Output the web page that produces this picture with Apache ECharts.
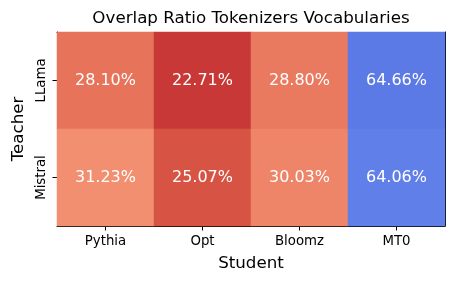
<!DOCTYPE html>
<html><head><meta charset="utf-8">
<script src="https://cdn.jsdelivr.net/npm/echarts@6/dist/echarts.min.js"></script>
<style>html,body{margin:0;padding:0;background:#fff}#c{width:454px;height:283px}</style>
</head><body><div id="c"></div>
<script>
const students = ['Pythia', 'Opt', 'Bloomz', 'MT0'];
const teachers = ['LLama', 'Mistral'];
const llamaValues = [28.10, 22.71, 28.80, 64.66];
const mistralValues = [31.23, 25.07, 30.03, 64.06];
const title = 'Overlap Ratio Tokenizers Vocabularies';

// coolwarm colormap (Moreland), reversed so low = red
const coolwarm = ['#3b4cc0','#445acc','#4d68d7','#5775e1','#6282ea','#6c8ef1','#779af7','#82a5fb','#8db0fe','#98b9ff','#a3c2ff','#aec9fd','#b8d0f9','#c2d5f4','#ccd9ee','#d5dbe6','#dddddd','#e5d8d1','#ecd3c5','#f1ccb8','#f5c4ac','#f7bb9f','#f7b193','#f7a686','#f49a7b','#f18d6f','#ec7f63','#e57058','#de604d','#d55042','#cb3e38','#c0282f','#b40426'];
const cmap = coolwarm.slice().reverse();

const rows = [llamaValues, mistralValues];
const data = [];
rows.forEach((vals, r) => vals.forEach((v, c) => data.push([c, r, v])));

const font = 'DejaVu Sans';
const chart = echarts.init(document.getElementById('c'));
chart.setOption({
  animation: false,
  backgroundColor: '#fff',
  textStyle: { fontFamily: font },
  title: { text: title, left: 246, top: 5, textAlign: 'center',
    textStyle: { fontFamily: font, fontSize: 16.7, fontWeight: 'normal', color: '#000' } },
  grid: { left: 57, right: 9, top: 32, bottom: 57 },
  xAxis: [{
    type: 'category', data: students, position: 'bottom',
    name: 'Student', nameLocation: 'middle', nameGap: 29,
    nameTextStyle: { fontFamily: font, fontSize: 16.7, color: '#000' },
    axisLine: { show: true, lineStyle: { color: '#000', width: 1 } },
    axisTick: { show: true, alignWithLabel: true, length: 4.5, lineStyle: { color: '#000' } },
    axisLabel: { fontFamily: font, fontSize: 13.3, color: '#000', margin: 9 },
    splitLine: { show: false }, splitArea: { show: false }
  }, {
    type: 'category', data: students, position: 'top',
    axisLine: { show: true, lineStyle: { color: '#000', width: 1 } },
    axisTick: { show: false }, axisLabel: { show: false }, splitLine: { show: false }
  }],
  yAxis: [{
    type: 'category', data: teachers, inverse: true, position: 'left',
    name: 'Teacher', nameLocation: 'middle', nameGap: 30, nameRotate: 90,
    nameTextStyle: { fontFamily: font, fontSize: 16.7, color: '#000' },
    axisLine: { show: true, lineStyle: { color: '#000', width: 1 } },
    axisTick: { show: true, alignWithLabel: true, length: 4.5, lineStyle: { color: '#000' } },
    axisLabel: { fontFamily: font, fontSize: 13.3, color: '#000', margin: 9, rotate: 90 },
    splitLine: { show: false }, splitArea: { show: false }
  }, {
    type: 'category', data: teachers, inverse: true, position: 'right',
    axisLine: { show: true, lineStyle: { color: '#000', width: 1 } },
    axisTick: { show: false }, axisLabel: { show: false }, splitLine: { show: false }
  }],
  visualMap: { show: false, type: 'continuous', min: 20, max: 70, dimension: 2,
    inRange: { color: cmap } },
  series: [{
    type: 'heatmap', data: data, xAxisIndex: 0, yAxisIndex: 0,
    itemStyle: { borderWidth: 0 },
    label: { show: true, color: '#fff', fontFamily: font, fontSize: 16,
      formatter: p => p.value[2].toFixed(2) + '%' }
  }]
});
</script></body></html>
